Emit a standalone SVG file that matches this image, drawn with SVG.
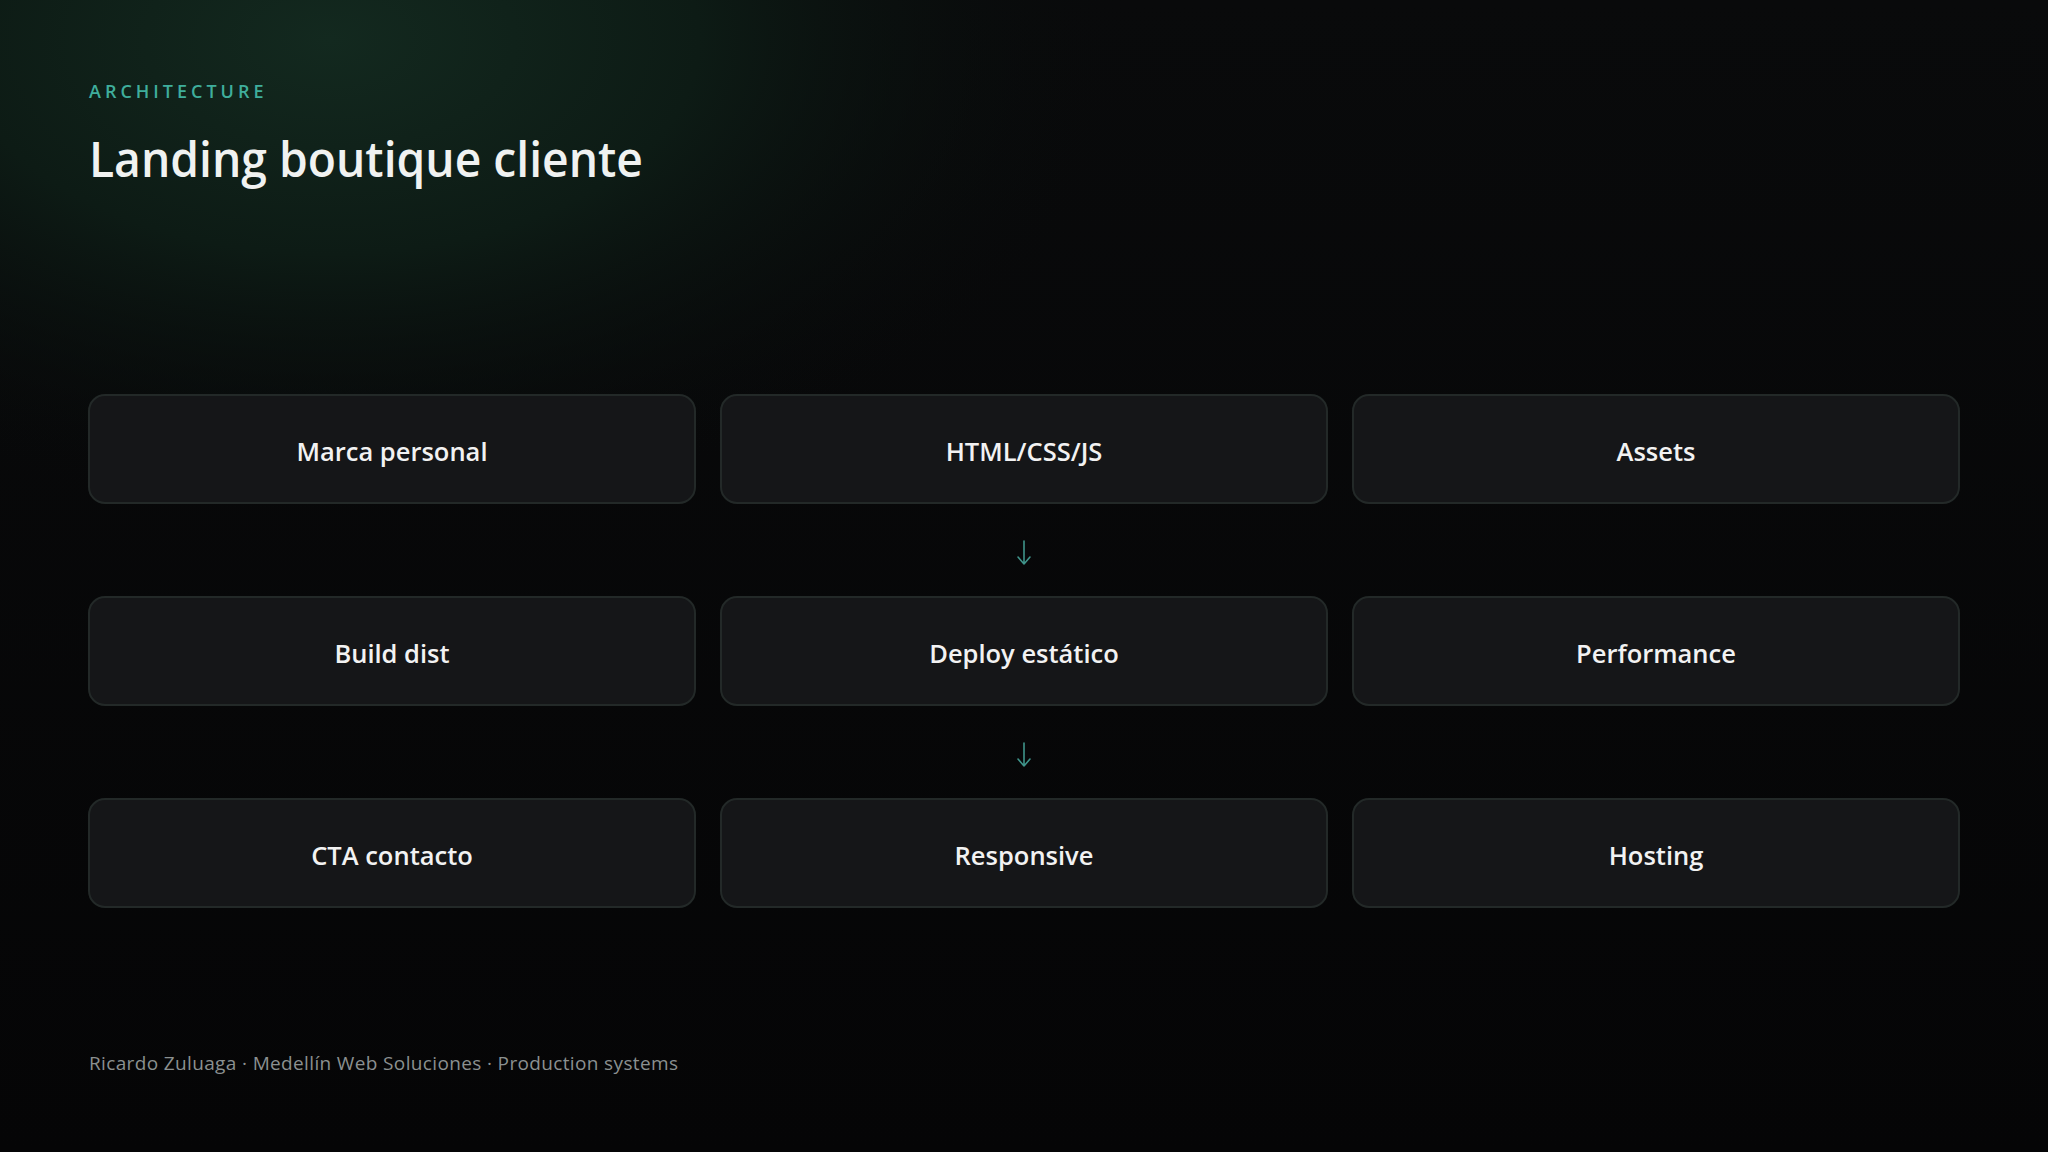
<svg xmlns="http://www.w3.org/2000/svg" width="2048" height="1152" viewBox="0 0 2048 1152">
<defs>
<radialGradient id="glow" gradientUnits="userSpaceOnUse" cx="330" cy="40" r="820" gradientTransform="translate(330 40) scale(1 0.58) translate(-330 -40)">
<stop offset="0" stop-color="#13291f"/>
<stop offset="0.45" stop-color="#0d1b15"/>
<stop offset="1" stop-color="#08090a" stop-opacity="0"/>
</radialGradient>
<linearGradient id="bg" x1="0" y1="0" x2="0" y2="1">
<stop offset="0" stop-color="#090a0b"/>
<stop offset="1" stop-color="#050506"/>
</linearGradient>
<style>
.box{fill:#151618;stroke:#232928;stroke-width:2}
.lbl{font-family:"Open Sans","Noto Sans",sans-serif;font-weight:600;font-size:25.5px;fill:#f2f2f2;text-anchor:middle}
.arrow{stroke:#3f948a;stroke-width:1.6;fill:none;stroke-linecap:round;stroke-linejoin:round}
</style>
</defs>
<rect width="2048" height="1152" fill="url(#bg)"/>
<rect width="2048" height="1152" fill="url(#glow)"/>
<text x="89" y="98" font-family="'Open Sans','Noto Sans',sans-serif" font-weight="600" font-size="18" letter-spacing="4" fill="#3fae9c">ARCHITECTURE</text>
<text x="89" y="177" font-family="'Open Sans','Noto Sans',sans-serif" font-weight="600" font-size="49" fill="#f0f2f1" textLength="554" lengthAdjust="spacingAndGlyphs">Landing boutique cliente</text>

<g id="n-marca"><rect class="box" x="89" y="395" width="606" height="108" rx="16"/><text class="lbl" x="392" y="461">Marca personal</text></g>
<g id="n-html"><rect class="box" x="721" y="395" width="606" height="108" rx="16"/><text class="lbl" x="1024" y="461">HTML/CSS/JS</text></g>
<g id="n-assets"><rect class="box" x="1353" y="395" width="606" height="108" rx="16"/><text class="lbl" x="1656" y="461">Assets</text></g>

<g id="n-build"><rect class="box" x="89" y="597" width="606" height="108" rx="16"/><text class="lbl" x="392" y="663">Build dist</text></g>
<g id="n-deploy"><rect class="box" x="721" y="597" width="606" height="108" rx="16"/><text class="lbl" x="1024" y="663">Deploy estático</text></g>
<g id="n-perf"><rect class="box" x="1353" y="597" width="606" height="108" rx="16"/><text class="lbl" x="1656" y="663">Performance</text></g>

<g id="n-cta"><rect class="box" x="89" y="799" width="606" height="108" rx="16"/><text class="lbl" x="392" y="865">CTA contacto</text></g>
<g id="n-resp"><rect class="box" x="721" y="799" width="606" height="108" rx="16"/><text class="lbl" x="1024" y="865">Responsive</text></g>
<g id="n-host"><rect class="box" x="1353" y="799" width="606" height="108" rx="16"/><text class="lbl" x="1656" y="865">Hosting</text></g>

<g id="connectors">
<path class="arrow" d="M1024 541 V564 M1018 557 L1024 564 L1030 557"/>
<path class="arrow" d="M1024 743 V766 M1018 759 L1024 766 L1030 759"/>
</g>

<text x="89" y="1070" font-family="'Open Sans','Noto Sans',sans-serif" font-size="19" fill="#8b9090" textLength="589">Ricardo Zuluaga · Medellín Web Soluciones · Production systems</text>
</svg>
